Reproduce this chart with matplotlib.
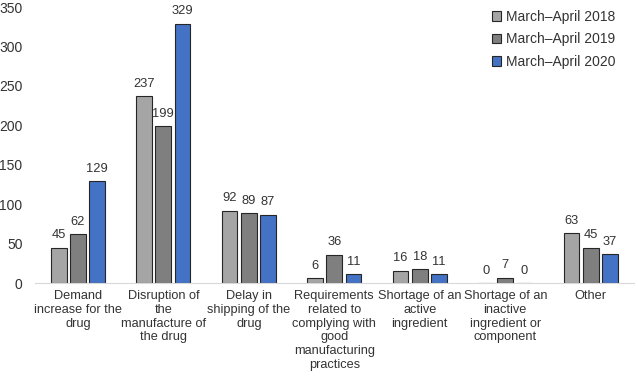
import matplotlib
matplotlib.use("Agg")
import matplotlib.pyplot as plt
import numpy as np

plt.rcParams['font.family'] = ['Liberation Sans', 'DejaVu Sans']

categories = ["Demand\nincrease for the\ndrug",
              "Disruption of\nthe\nmanufacture of\nthe drug",
              "Delay in\nshipping of the\ndrug",
              "Requirements\nrelated to\ncomplying with\ngood\nmanufacturing\npractices",
              "Shortage of an\nactive\ningredient",
              "Shortage of an\ninactive\ningredient or\ncomponent",
              "Other"]
series_names = ["March\u2013April 2018", "March\u2013April 2019", "March\u2013April 2020"]
v2018 = [45, 237, 92, 6, 16, 0, 63]
v2019 = [62, 199, 89, 36, 18, 7, 45]
v2020 = [129, 329, 87, 11, 11, 0, 37]
colors = ["#a5a5a5", "#7f7f7f", "#4472c4"]

fig = plt.figure(figsize=(6.38, 3.76), dpi=100)
ax = fig.add_axes([0.055, 0.247, 0.938, 0.734])
x = np.arange(len(categories))
w = 0.185
offs = [-0.225, 0, 0.225]
for vals, name, c, o in zip([v2018, v2019, v2020], series_names, colors, offs):
    bars = ax.bar(x + o, vals, w, color=c, edgecolor="#262626", linewidth=0.8, label=name)
    for b, v in zip(bars, vals):
        ax.text(b.get_x() + b.get_width() / 2, v + 8, str(v), ha="center", va="bottom",
                fontsize=9.3, color="#333333")

ax.set_xlim(-0.5, len(categories) - 0.5)
ax.set_ylim(0, 350)
ax.set_yticks(range(0, 351, 50))
ax.set_xticks(x)
ax.set_xticklabels(categories, fontsize=9.2, color="#333333", linespacing=1.2)
ax.tick_params(axis='y', labelsize=10, colors="#333333", length=0, pad=9)
ax.tick_params(axis='x', length=0, pad=5)
for s in ["top", "right", "left"]:
    ax.spines[s].set_visible(False)
ax.spines["bottom"].set_color("#d9d9d9")
leg = ax.legend(loc="upper right", bbox_to_anchor=(0.99, 1.035), frameon=False, fontsize=10,
                handlelength=0.7, handleheight=0.7, handletextpad=0.3, labelspacing=0.6,
                labelcolor="#333333")
fig.savefig("out.png", dpi=100)
